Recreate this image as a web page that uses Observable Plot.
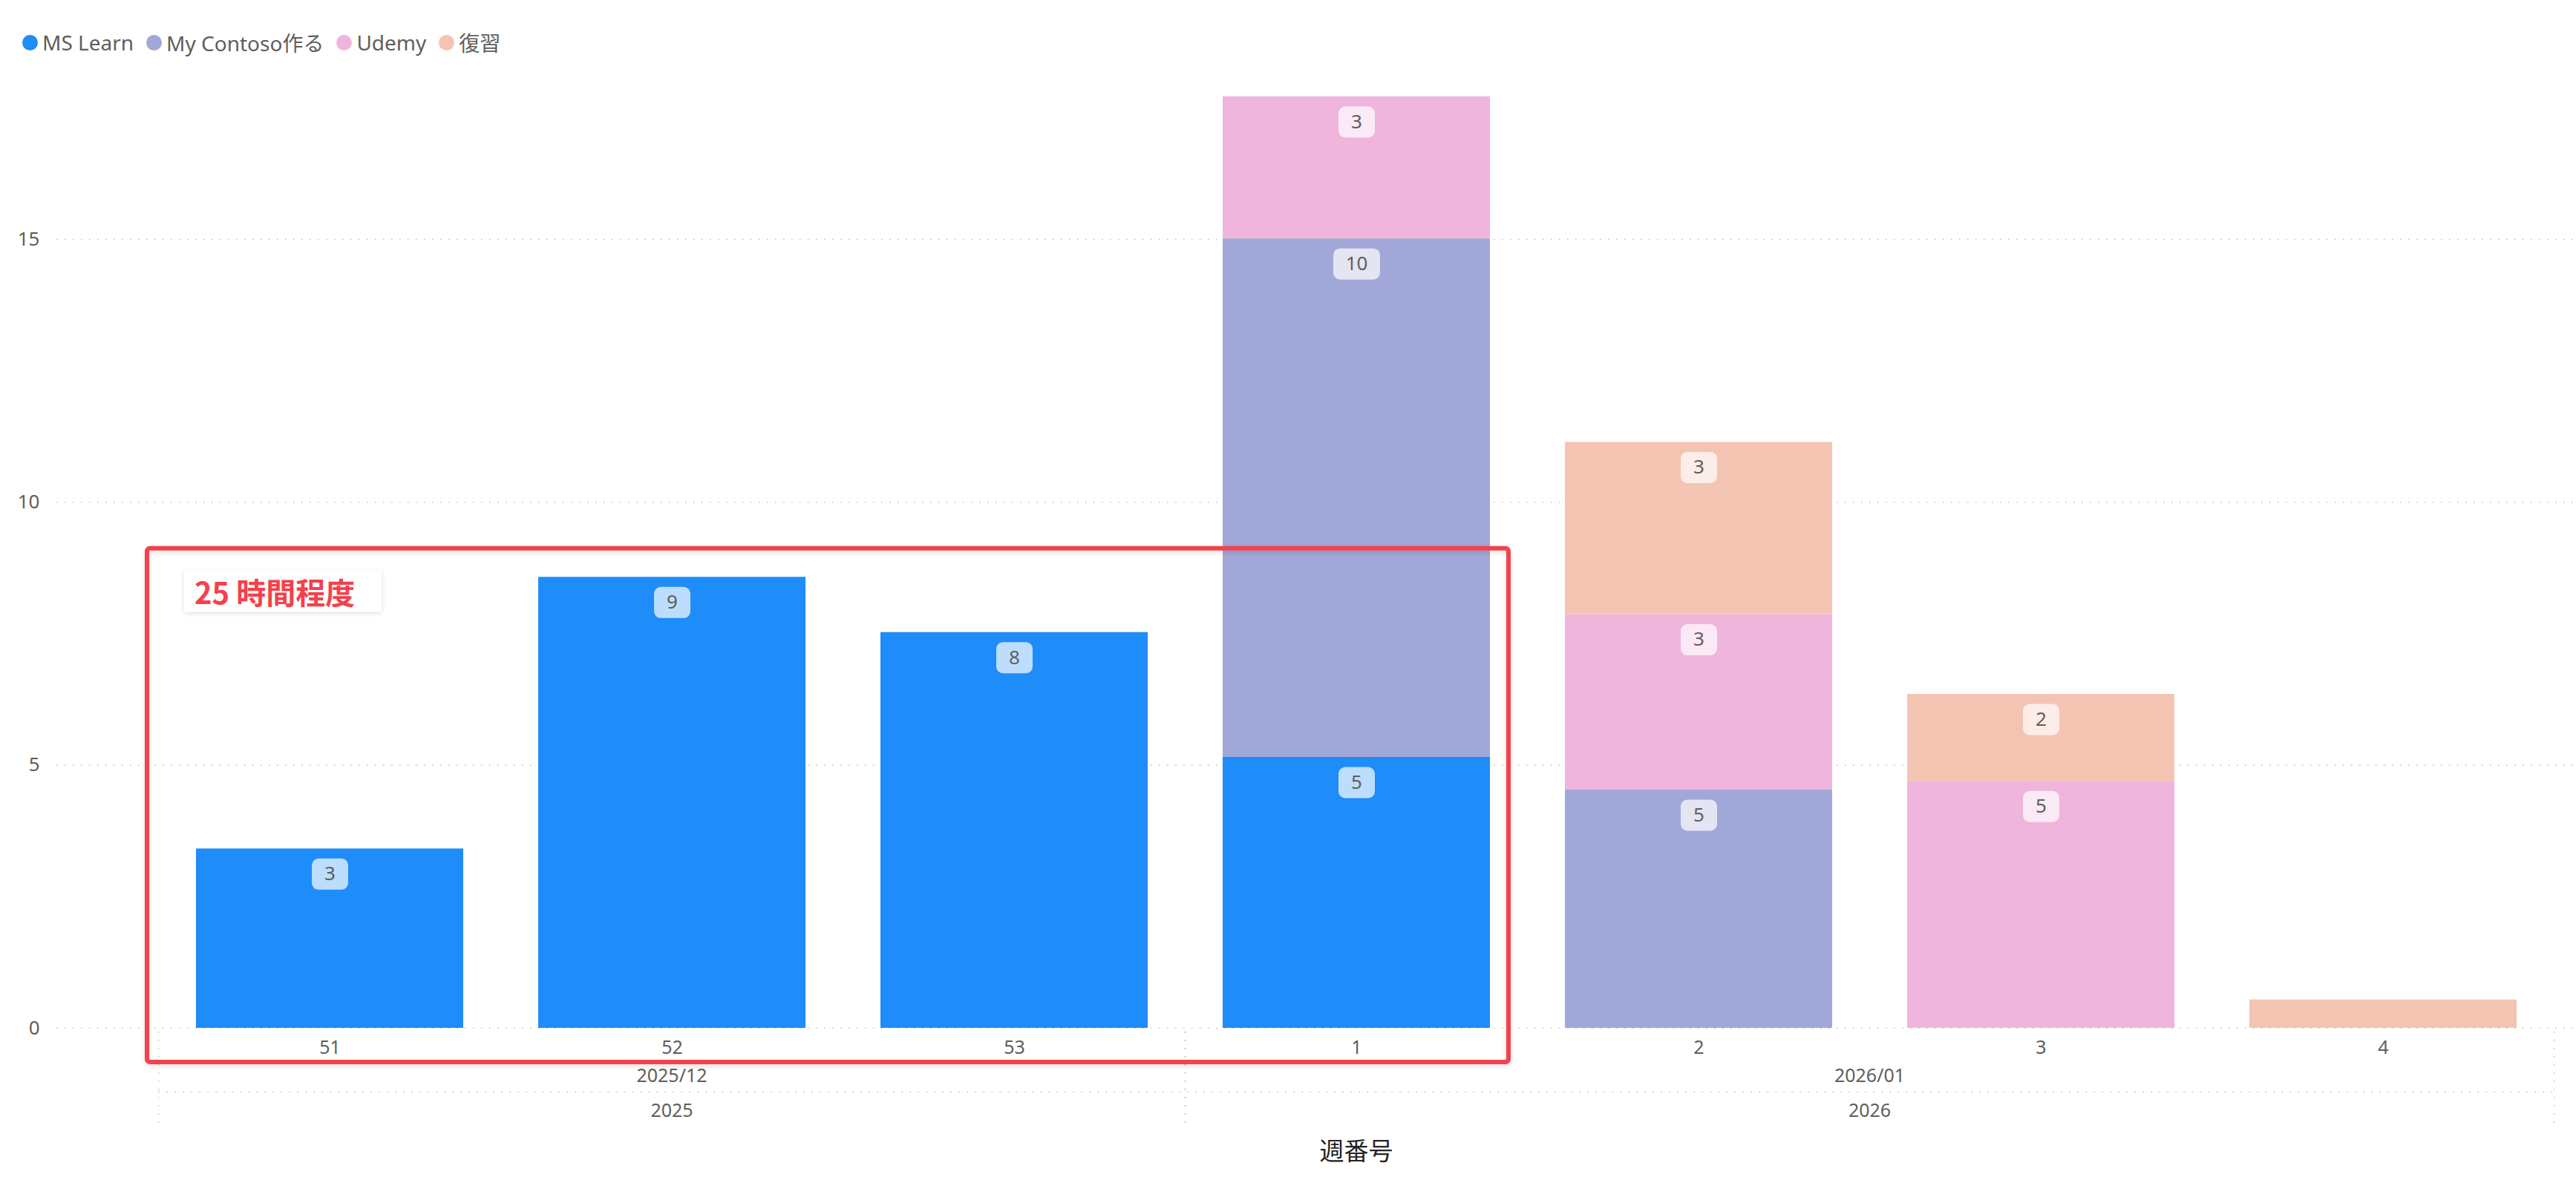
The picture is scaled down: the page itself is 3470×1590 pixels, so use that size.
<!DOCTYPE html>
<html>
<head>
<meta charset="utf-8">
<script src="https://cdn.jsdelivr.net/npm/d3@7"></script>
<script src="https://cdn.jsdelivr.net/npm/@observablehq/plot@0.6"></script>
<style>
  html, body { margin: 0; padding: 0; background: #fff; }
  body { width: 3470px; height: 1590px; overflow: hidden; font-family: "Noto Sans", "Noto Sans CJK JP", sans-serif; }
  #legend { height: 30px; padding: 42px 0 18px 30px; display: flex; align-items: center; font-size: 28px; color: #605E5C; }
  .item { display: flex; align-items: center; margin-right: 17px; white-space: nowrap; }
  .sw { width: 21px; height: 21px; border-radius: 50%; margin-right: 6px; }
</style>
</head>
<body>
<div id="legend"></div>
<div id="chart"></div>
<script>
// ---- data ----
const weeks = ["51", "52", "53", "1", "2", "3", "4"];
const months = ["2025/12", "2025/12", "2025/12", "2026/01", "2026/01", "2026/01", "2026/01"];
const years = ["2025", "2025", "2025", "2026", "2026", "2026", "2026"];
const seriesNames = ["MS Learn", "My Contoso作る", "Udemy", "復習"];
const seriesColors = ["#1E8CF9", "#A1A7D6", "#F0B5DC", "#F4C4B3"];
const msLearn   = [3.41, 8.575, 7.525, 5.15, 0, 0, 0];
const myContoso = [0, 0, 0, 9.86, 4.53, 0, 0];
const udemy     = [0, 0, 0, 2.70, 3.335, 4.695, 0];
const fukushu   = [0, 0, 0, 0, 3.275, 1.655, 0.54];
const yTicks = [0, 5, 10, 15];
const xTitle = "週番号";
const annotation = {from: "51", to: "1", top: 9.12, bottom: -0.65, text: "25 時間程度"};

const seriesValues = [msLearn, myContoso, udemy, fukushu];

// ---- legend ----
const legend = document.getElementById("legend");
seriesNames.forEach((name, k) => {
  const item = document.createElement("div");
  item.className = "item";
  const sw = document.createElement("div");
  sw.className = "sw";
  sw.style.background = seriesColors[k];
  const t = document.createElement("span");
  t.textContent = name;
  item.appendChild(sw); item.appendChild(t);
  legend.appendChild(item);
});

// ---- rows ----
const rows = [];
const labelRows = [];
weeks.forEach((w, i) => {
  let cum = 0;
  seriesValues.forEach((vals, k) => {
    const v = vals[i];
    if (v > 0) {
      cum += v;
      rows.push({week: w, series: seriesNames[k], value: v});
      if (v >= 1) labelRows.push({week: w, series: seriesNames[k], top: cum, label: String(Math.round(v))});
    }
  });
});

function roundBox(w, h, r) {
  return {
    draw(ctx) {
      const x0 = -w / 2, y0 = -h / 2, x1 = w / 2, y1 = h / 2;
      ctx.moveTo(x0 + r, y0);
      ctx.lineTo(x1 - r, y0);
      ctx.arcTo(x1, y0, x1, y0 + r, r);
      ctx.lineTo(x1, y1 - r);
      ctx.arcTo(x1, y1, x1 - r, y1, r);
      ctx.lineTo(x0 + r, y1);
      ctx.arcTo(x0, y1, x0, y1 - r, r);
      ctx.lineTo(x0, y0 + r);
      ctx.arcTo(x0, y0, x0 + r, y0, r);
      ctx.closePath();
    }
  };
}

const gridStyle = {stroke: "#BDBDBD", strokeWidth: 1.5, strokeDasharray: "1.5 9.5"};

const plot = Plot.plot({
  width: 3470,
  height: 1500,
  marginTop: 19.3,
  marginBottom: 205,
  marginLeft: 76,
  marginRight: 0,
  style: {fontFamily: '"Noto Sans", "Noto Sans CJK JP", sans-serif', background: "white", overflow: "visible"},
  x: {domain: weeks, range: [210.4, 3443.7], paddingInner: 0.22, paddingOuter: 0.11},
  y: {domain: [0, 18]},
  color: {domain: seriesNames, range: seriesColors},
  marks: [
    Plot.ruleY(yTicks, gridStyle),
    Plot.barY(rows, Plot.stackY({x: "week", y: "value", z: "series", fill: "series", order: seriesNames})),
    Plot.dot(labelRows, {x: "week", y: "top", filter: d => d.label.length === 1, symbol: roundBox(49, 42, 9), fill: "white", fillOpacity: 0.7, dy: 34}),
    Plot.dot(labelRows, {x: "week", y: "top", filter: d => d.label.length > 1, symbol: roundBox(63, 42, 9), fill: "white", fillOpacity: 0.7, dy: 34}),
    Plot.text(labelRows, {x: "week", y: "top", text: "label", dy: 34, fill: "#605E5C", fontSize: 26, lineAnchor: "middle"}),
    Plot.axisY({ticks: yTicks, tickSize: 0, tickPadding: 23, fontSize: 26, fill: "#605E5C", label: null}),
    Plot.axisX({tickSize: 0, tickPadding: 17, fontSize: 25, fill: "#605E5C", label: null})
  ]
});
document.getElementById("chart").appendChild(plot);

// ---- hierarchical axis, title and annotation via the plot's own scales ----
const svg = d3.select(plot);
const xs = plot.scale("x"), ys = plot.scale("y");
const bw = xs.bandwidth, step = xs.step, gap = step - bw;
const X = v => xs.apply(v);
const Y = v => ys.apply(v);
const y0 = Y(0);

function groups(keys) {
  const out = [];
  keys.forEach((k, i) => {
    const last = out[out.length - 1];
    if (last && last.key === k) last.end = weeks[i];
    else out.push({key: k, start: weeks[i], end: weeks[i]});
  });
  return out;
}
const g = svg.append("g").attr("font-size", 25).attr("fill", "#605E5C").attr("text-anchor", "middle");
const dash = {stroke: "#BDBDBD", "stroke-width": 1.5, "stroke-dasharray": "1.5 9.5"};
function dotted(x1, y1, x2, y2) {
  const l = g.append("line").attr("x1", x1).attr("y1", y1).attr("x2", x2).attr("y2", y2);
  Object.entries(dash).forEach(([k, v]) => l.attr(k, v));
}
groups(months).forEach(m => {
  const a = X(m.start) - gap / 2, b = X(m.end) + bw + gap / 2;
  g.append("text").attr("x", (X(m.start) + X(m.end) + bw) / 2).attr("y", y0 + 73).text(m.key);
  dotted(a, y0 + 5, a, y0 + 133);
  dotted(b, y0 + 5, b, y0 + 133);
});
groups(years).forEach(yv => {
  g.append("text").attr("x", (X(yv.start) + X(yv.end) + bw) / 2).attr("y", y0 + 120).text(yv.key);
});
dotted(X(weeks[0]) - gap / 2, y0 + 86, X(weeks[weeks.length - 1]) + bw + gap / 2, y0 + 86);

svg.append("text")
  .attr("x", (xs.range[0] + xs.range[1]) / 2).attr("y", y0 + 178)
  .attr("text-anchor", "middle").attr("font-size", 33).attr("fill", "#252423")
  .text(xTitle);

// annotation
const ax1 = X(annotation.from) - 66, ax2 = X(annotation.to) + bw + 25;
const ay1 = Y(annotation.top), ay2 = Y(annotation.bottom);
svg.append("rect")
  .attr("x", ax1).attr("y", ay1).attr("width", ax2 - ax1).attr("height", ay2 - ay1)
  .attr("rx", 4).attr("fill", "none").attr("stroke", "#F4414C").attr("stroke-width", 6)
  .style("filter", "drop-shadow(0px 3px 3px rgba(0,0,0,0.12))");
svg.append("rect")
  .attr("x", ax1 + 50).attr("y", ay1 + 30).attr("width", 266).attr("height", 56)
  .attr("fill", "white")
  .style("filter", "drop-shadow(0px 2px 3px rgba(0,0,0,0.12))");
svg.append("text")
  .attr("x", ax1 + 64).attr("y", ay1 + 75)
  .attr("text-anchor", "start")
  .attr("font-family", '"Noto Sans CJK JP", sans-serif').attr("font-weight", 700)
  .attr("font-size", 40).attr("fill", "#F4414C")
  .text(annotation.text);
</script>
</body>
</html>
